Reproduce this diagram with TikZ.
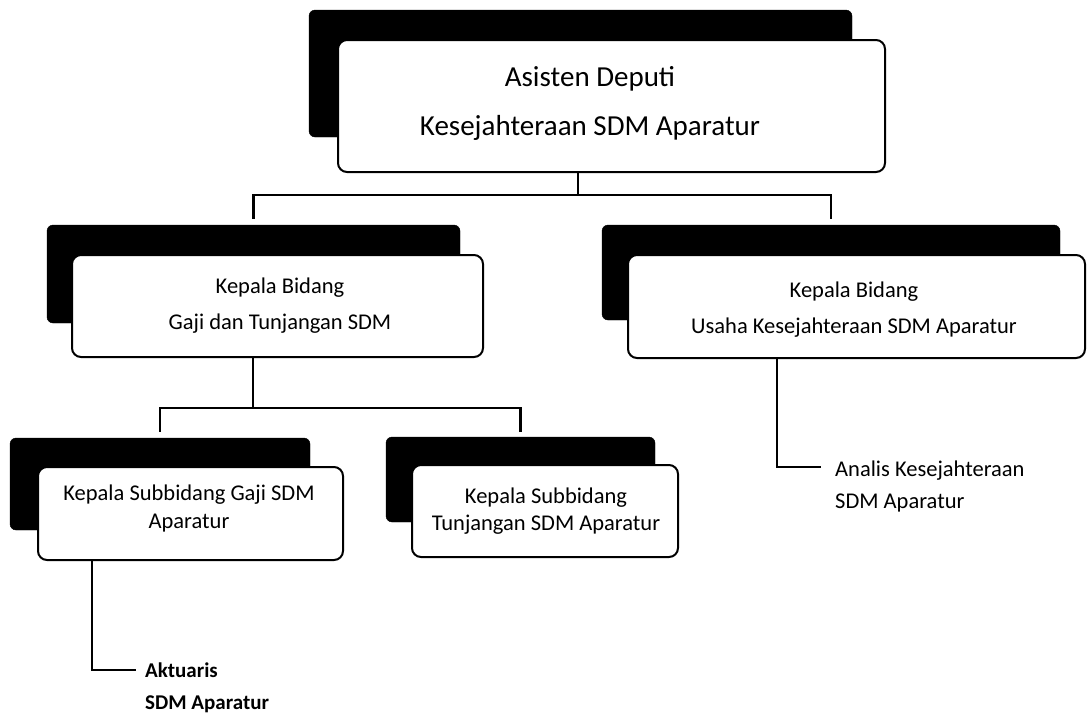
\documentclass[tikz,border=0pt]{standalone}
\usepackage{fontspec}
\setmainfont{Carlito}
\begin{document}
\begin{tikzpicture}[x=1pt,y=-1pt,
  shadowbox/.style={fill=black, draw=black, rounded corners=6pt, inner sep=0pt},
  frontbox/.style={fill=white, draw=black, line width=2pt, rounded corners=9pt, inner sep=0pt},
  conn/.style={line width=2.5pt, line cap=rect},
  bigtxt/.style={align=center, inner sep=0pt, font=\fontsize{29}{49}\selectfont},
  midtxt/.style={align=center, inner sep=0pt, font=\fontsize{22.5}{36}\selectfont},
  smalltxt/.style={align=center, inner sep=0pt, font=\fontsize{22.5}{27.5}\selectfont},
  leaftxt/.style={align=left, inner sep=0pt, anchor=west, font=\fontsize{22.5}{32}\selectfont}
]
\useasboundingbox (0,0) rectangle (1087,716);
\fill[white] (0,0) rectangle (1087,716);

% top box
\node[shadowbox, minimum width=543pt, minimum height=127pt] (topsh) at (580.5,73.5) {};
\node[frontbox, minimum width=547pt, minimum height=132pt] (top) at (611.5,106) {};
\node[bigtxt] (toptxt) at (590,103) {Asisten Deputi\\Kesejahteraan SDM Aparatur};

% mid left
\node[shadowbox, minimum width=413pt, minimum height=98pt] (mlsh) at (253.5,274) {};
\node[frontbox, minimum width=411pt, minimum height=102pt] (ml) at (277.5,306) {};
\node[midtxt] (mltxt) at (280,306) {Kepala Bidang\\Gaji dan Tunjangan SDM};

% mid right
\node[shadowbox, minimum width=458pt, minimum height=95pt] (mrsh) at (831,272.5) {};
\node[frontbox, minimum width=457pt, minimum height=103pt] (mr) at (856.5,306.5) {};
\node[midtxt] (mrtxt) at (854,310) {Kepala Bidang\\Usaha Kesejahteraan SDM Aparatur};

% bottom left
\node[shadowbox, minimum width=300pt, minimum height=92pt] (blsh) at (160,484) {};
\node[frontbox, minimum width=305pt, minimum height=93pt] (bl) at (190.5,513.5) {};
\node[smalltxt] (bltxt) at (189,508.5) {Kepala Subbidang Gaji SDM\\Aparatur};

% bottom middle
\node[shadowbox, minimum width=269pt, minimum height=85pt] (bmsh) at (520.5,479.5) {};
\node[frontbox, minimum width=266pt, minimum height=92pt] (bm) at (545,511) {};
\node[smalltxt] (bmtxt) at (546,511) {Kepala Subbidang\\Tunjangan SDM Aparatur};

% leaf texts
\node[leaftxt] (analis) at (835,486) {Analis Kesejahteraan\\SDM Aparatur};
\node[leaftxt, font=\fontsize{21}{32}\selectfont\bfseries] (aktuaris) at (145,688) {Aktuaris\\SDM Aparatur};

% connectors
\coordinate (bus1) at (578,195);
\draw[conn] (top.south -| bus1) -- (bus1);
\draw[conn] ([yshift=7pt]mlsh.north) |- (bus1) -| ([yshift=7pt]mrsh.north);

\coordinate (bus2) at (253,408);
\draw[conn] (ml.south -| bus2) -- (bus2);
\draw[conn] ([yshift=7pt]blsh.north) |- (bus2) -| ([yshift=6pt]bmsh.north);

\coordinate (elb3) at (777,467);
\coordinate (end3) at (820,467);
\draw[conn] (mr.south -| elb3) -- (elb3) -- (end3);

\coordinate (elb4) at (92,670);
\coordinate (end4) at (135,670);
\draw[conn] (bl.south -| elb4) -- (elb4) -- (end4);
\end{tikzpicture}
\end{document}
